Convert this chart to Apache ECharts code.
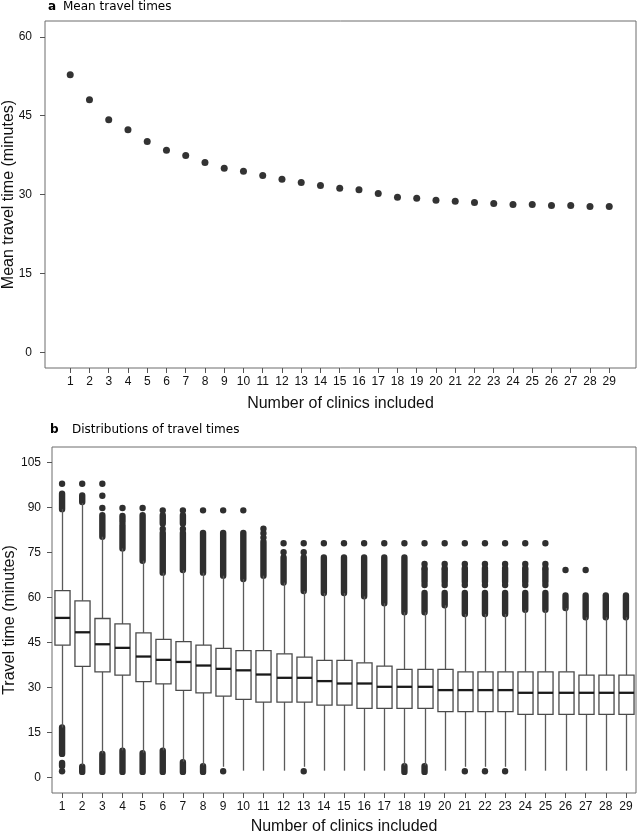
<!DOCTYPE html>
<html>
<head>
<meta charset="utf-8">
<script src="https://cdn.jsdelivr.net/npm/echarts@6/dist/echarts.min.js"></script>
<style>
html,body{margin:0;padding:0;background:#fff;}
#chart{width:638px;height:834px;}
</style>
</head>
<body>
<div id="chart"></div>
<script>
// ---- data ----
const categories = ['1','2','3','4','5','6','7','8','9','10','11','12','13','14','15','16','17','18','19','20','21','22','23','24','25','26','27','28','29'];
const meanTimes = [52.8,48.0,44.2,42.3,40.1,38.4,37.4,36.1,35.0,34.4,33.6,32.9,32.3,31.7,31.2,30.9,30.2,29.5,29.3,28.9,28.7,28.5,28.3,28.1,28.1,27.9,27.9,27.7,27.7];
const topYTicks = [0,15,30,45,60];
const bottomYTicks = [0,15,30,45,60,75,90,105];

const whiskerLow  = [16.6,4.0,8.0,9.0,8.2,9.0,5.2,4.0,3.5,2.2,2.2,2.2,3.5,2.2,2.2,2.2,2.2,4.0,4.0,2.2,3.5,3.5,3.5,2.2,2.2,2.2,2.2,2.2,2.2];
const q1          = [44.1,37.0,35.2,34.1,31.9,31.2,29.0,28.2,27.1,26.0,25.1,25.1,25.1,24.1,24.1,23.0,23.0,23.0,23.0,21.9,21.9,21.9,21.9,21.0,21.0,21.0,21.0,21.0,21.0];
const median      = [53.2,48.4,44.4,43.2,40.3,39.2,38.5,37.3,36.2,35.7,34.3,33.2,33.2,32.1,31.3,31.3,30.2,30.2,30.2,29.1,29.1,29.1,29.1,28.2,28.2,28.2,28.2,28.2,28.2];
const q3          = [62.3,58.9,53.0,51.2,48.2,46.0,45.3,44.1,43.0,42.3,42.3,41.2,40.1,39.0,39.0,38.2,37.1,36.0,36.0,36.0,35.2,35.2,35.2,35.2,35.2,35.2,34.1,34.1,34.1];
const whiskerHigh = [89.5,91.5,80.3,76.4,72.3,68.3,69.2,68.3,67.3,66.2,67.3,65.0,62.2,61.5,61.5,60.4,58.1,55.1,55.1,57.4,54.5,54.5,54.5,55.9,55.9,56.5,53.4,53.4,53.4];

// outliers: [clinics, low end, high end] (single points have low == high)
const outliers = [
  [1,98,98],[1,89.5,94.7],[1,7.8,16.6],[1,3.8,4.8],[1,2,2],
  [2,98,98],[2,91.9,94.1],[2,1.8,3.5],
  [3,98,98],[3,94,94],[3,89.9,89.9],[3,80.3,87.5],[3,1.8,7.8],
  [4,89.9,89.9],[4,85.3,87.2],[4,76.4,84.2],[4,1.8,8.9],
  [5,89.9,89.9],[5,72.3,87.5],[5,1.8,8.0],
  [6,89.1,89.1],[6,84.7,87.5],[6,82.9,82.9],[6,68.3,81.6],[6,1.8,8.9],
  [7,89.1,89.1],[7,84.7,87.5],[7,82.9,82.9],[7,69.2,81.6],[7,1.8,5.0],
  [8,89.1,89.1],[8,68.3,81.6],[8,1.8,3.7],
  [9,89.1,89.1],[9,67.3,81.6],[9,2,2],
  [10,89.1,89.1],[10,66.2,81.6],
  [11,83,83],[11,81.5,81.5],[11,80,80],[11,67.3,78.6],
  [12,78.1,78.1],[12,75.1,75.1],[12,65.0,73.4],
  [13,78.1,78.1],[13,75.1,75.1],[13,62.2,73.4],[13,2,2],
  [14,78.1,78.1],[14,61.5,73.4],
  [15,78.1,78.1],[15,61.5,73.4],
  [16,78.1,78.1],[16,60.4,73.4],
  [17,78.1,78.1],[17,58.1,73.4],
  [18,78.1,78.1],[18,55.1,73.4],[18,1.8,3.7],
  [19,78.1,78.1],[19,71.2,71.2],[19,69.8,69.8],[19,65.3,69.2],[19,64.2,64.2],[19,55.1,61.5],[19,1.8,3.7],
  [20,78.1,78.1],[20,71.2,71.2],[20,69.8,69.8],[20,65.3,69.2],[20,64.2,64.2],[20,57.4,61.5],
  [21,78.1,78.1],[21,71.2,71.2],[21,69.8,69.8],[21,65.3,69.2],[21,64.2,64.2],[21,54.5,61.5],[21,2,2],
  [22,78.1,78.1],[22,71.2,71.2],[22,69.8,69.8],[22,65.3,69.2],[22,64.2,64.2],[22,54.5,61.5],[22,2,2],
  [23,78.1,78.1],[23,71.2,71.2],[23,69.8,69.8],[23,65.3,69.2],[23,64.2,64.2],[23,54.5,61.5],[23,2,2],
  [24,78.1,78.1],[24,71.2,71.2],[24,69.8,69.8],[24,65.3,69.2],[24,64.2,64.2],[24,55.9,61.5],
  [25,78.1,78.1],[25,71.2,71.2],[25,69.8,69.8],[25,65.3,69.2],[25,64.2,64.2],[25,55.9,61.5],
  [26,69.2,69.2],[26,56.5,60.7],
  [27,69.2,69.2],[27,53.4,60.7],
  [28,53.4,60.7],
  [29,53.4,60.7]
];

// ---- build ----
const chart = echarts.init(document.getElementById('chart'), null, {renderer:'canvas'});
const sans = 'Liberation Sans, Arial, sans-serif';
const titleFont = 'DejaVu Sans, sans-serif';
const clinicNums = categories.map(Number);

const meanData = categories.map((c, i) => [Number(c), meanTimes[i]]);
const boxData = categories.map((c, i) => [i, whiskerLow[i], q1[i], median[i], q3[i], whiskerHigh[i]]);
const outlierData = outliers.map(o => [categories.indexOf(String(o[0])), o[1], o[2]]);

const axisLabelStyle = {color:'#111', fontSize:12, fontFamily:sans};
const tickStyle = {show:true, length:5, lineStyle:{color:'#555', width:1}};
const nameStyle = {color:'#111', fontSize:16, fontFamily:sans};

const option = {
  backgroundColor:'#fff',
  animation:false,
  title:[
    {text:'a', left:48, top:1, padding:0, textStyle:{fontFamily:titleFont, fontWeight:'bold', fontSize:12, color:'#000'}},
    {text:'Mean travel times', left:63, top:1, padding:0, textStyle:{fontFamily:titleFont, fontWeight:'normal', fontSize:12, color:'#000'}},
    {text:'b', left:50, top:424, padding:0, textStyle:{fontFamily:titleFont, fontWeight:'bold', fontSize:12, color:'#000'}},
    {text:'Distributions of travel times', left:72, top:424, padding:0, textStyle:{fontFamily:titleFont, fontWeight:'normal', fontSize:12, color:'#000'}}
  ],
  grid:[
    {left:45, right:2, top:21, height:347, show:true, borderColor:'#6d6d6d', borderWidth:1, backgroundColor:'transparent', containLabel:false, outerBoundsMode:'none'},
    {left:52, right:2, top:447, height:346, show:true, borderColor:'#6d6d6d', borderWidth:1, backgroundColor:'transparent', containLabel:false, outerBoundsMode:'none'}
  ],
  xAxis:[
    {type:'value', gridIndex:0, min:-0.31, max:30.39,
     axisLine:{show:false, onZero:false},
     axisTick:Object.assign({}, tickStyle, {customValues:clinicNums}),
     axisLabel:Object.assign({}, axisLabelStyle, {margin:8, customValues:clinicNums}),
     splitLine:{show:false},
     name:'Number of clinics included', nameLocation:'middle', nameGap:28, nameMoveOverlap:false, nameTextStyle:nameStyle},
    {type:'category', gridIndex:1, data:categories, boundaryGap:true,
     axisLine:{show:false, onZero:false},
     axisTick:Object.assign({}, tickStyle, {alignWithLabel:true, interval:0}),
     axisLabel:Object.assign({}, axisLabelStyle, {margin:8, interval:0}),
     splitLine:{show:false},
     name:'Number of clinics included', nameLocation:'middle', nameGap:26, nameMoveOverlap:false, nameTextStyle:nameStyle}
  ],
  yAxis:[
    {type:'value', gridIndex:0, min:-3, max:63,
     axisLine:{show:false, onZero:false},
     axisTick:Object.assign({}, tickStyle, {customValues:topYTicks}),
     axisLabel:Object.assign({}, axisLabelStyle, {margin:13, customValues:topYTicks}),
     splitLine:{show:false},
     name:'Mean travel time (minutes)', nameLocation:'middle', nameGap:28, nameMoveOverlap:false, nameTextStyle:nameStyle},
    {type:'value', gridIndex:1, min:-5.25, max:110.25,
     axisLine:{show:false, onZero:false},
     axisTick:Object.assign({}, tickStyle, {customValues:bottomYTicks}),
     axisLabel:Object.assign({}, axisLabelStyle, {margin:11, customValues:bottomYTicks}),
     splitLine:{show:false},
     name:'Travel time (minutes)', nameLocation:'middle', nameGap:34, nameMoveOverlap:false, nameTextStyle:nameStyle}
  ],
  series:[
    {type:'scatter', xAxisIndex:0, yAxisIndex:0, data:meanData, symbol:'circle', symbolSize:7,
     itemStyle:{color:'#000'}, silent:true},
    {type:'custom', xAxisIndex:1, yAxisIndex:1, data:outlierData, encode:{x:0, y:[1,2]}, silent:true,
     renderItem:function(params, api){
       const x = api.value(0);
       const lo = api.coord([x, api.value(1)]);
       const hi = api.coord([x, api.value(2)]);
       const r = 3.2;
       return {type:'rect', shape:{x:lo[0]-r, y:hi[1]-r, width:2*r, height:(lo[1]-hi[1])+2*r, r:r},
               style:{fill:'#2f2f2f'}};
     }},
    {type:'custom', xAxisIndex:1, yAxisIndex:1, data:boxData, encode:{x:0, y:[1,2,3,4,5]}, silent:true,
     renderItem:function(params, api){
       const x = api.value(0);
       const pLow = api.coord([x, api.value(1)]);
       const pQ1 = api.coord([x, api.value(2)]);
       const pMed = api.coord([x, api.value(3)]);
       const pQ3 = api.coord([x, api.value(4)]);
       const pHigh = api.coord([x, api.value(5)]);
       const hw = api.size([1,0])[0]*0.375;
       const cx = Math.round(pQ1[0]) + 0.5;
       return {type:'group', children:[
         {type:'line', shape:{x1:cx, y1:pLow[1], x2:cx, y2:pQ1[1]}, style:{stroke:'#5a5a5a', lineWidth:1.3}},
         {type:'line', shape:{x1:cx, y1:pQ3[1], x2:cx, y2:pHigh[1]}, style:{stroke:'#5a5a5a', lineWidth:1.3}},
         {type:'rect', shape:{x:cx-hw, y:pQ3[1], width:2*hw, height:pQ1[1]-pQ3[1]},
          style:{fill:'#fff', stroke:'#4a4a4a', lineWidth:1.3}},
         {type:'line', shape:{x1:cx-hw, y1:pMed[1], x2:cx+hw, y2:pMed[1]}, style:{stroke:'#1a1a1a', lineWidth:2.3}}
       ]};
     }}
  ]
};
chart.setOption(option);
</script>
</body>
</html>
